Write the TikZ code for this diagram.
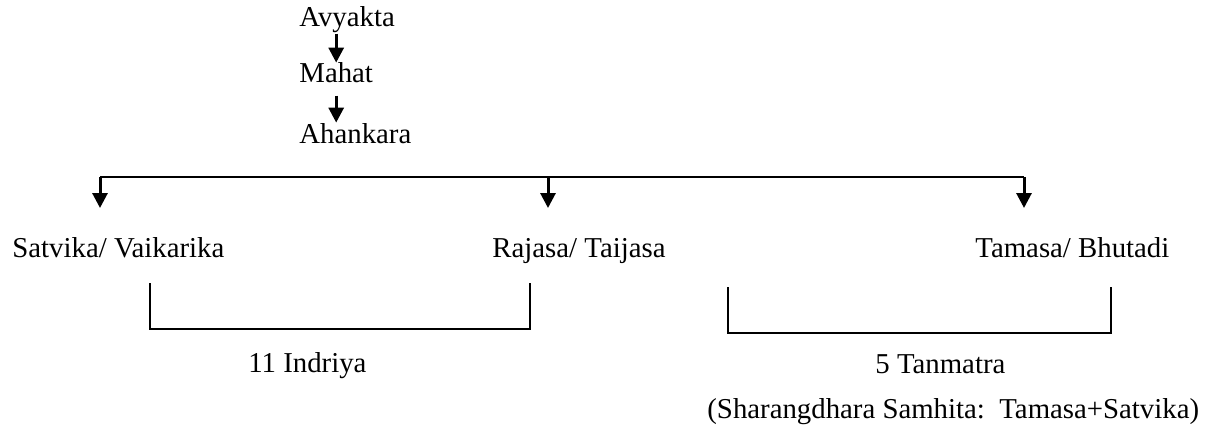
\documentclass[tikz,border=0pt]{standalone}
\usepackage{fontspec}
\setmainfont{Liberation Serif}
\usetikzlibrary{positioning,calc,arrows.meta}

\begin{document}
\begin{tikzpicture}[x=0.5pt,y=-0.5pt,font=\fontsize{14.4}{17}\selectfont,
  lbl/.style={anchor=base west,inner sep=0pt},
  arr/.style={line width=1.5pt,-{Triangle[width=7.5pt,length=7.5pt]}},
  bar/.style={line width=1pt},
  brace/.style={line width=1.2pt}]
\useasboundingbox (0,0) rectangle (1226,444);
\node[lbl] (avyakta) at (299,27) {Avyakta};
\node[lbl] (mahat) at (299,83) {Mahat};
\node[lbl] (ahankara) at (299,143) {Ahankara};
\draw[arr] (mahat.north |- avyakta.south) -- (mahat.north);
\draw[arr] ([yshift=-6pt]mahat.south) -- (mahat.south |- ahankara.north);
% three gunas
\coordinate (split) at (0,177);
\coordinate (t1) at (100,208);
\coordinate (t2) at (548,208);
\coordinate (t3) at (1024,208);
\draw[bar] (t1 |- split) -- (t3 |- split);
\foreach \t in {t1,t2,t3} \draw[arr] (\t |- split) -- (\t);
\node[lbl] (satvika) at (12,257) {Satvika/ Vaikarika};
\node[lbl] (rajasa) at (492,257) {Rajasa/ Taijasa};
\node[lbl] (tamasa) at (975,257) {Tamasa/ Bhutadi};
% groups
\draw[brace] (150,283) |- (530,329) -- (530,283);
\draw[brace] (728,287) |- (1111,333) -- (1111,287);
\node[lbl] (indriya) at (248,372) {11 Indriya};
\node[lbl] (tanmatra) at (875,373) {5 Tanmatra};
\node[lbl] (note) at (707,418) {(Sharangdhara Samhita:\ \ Tamasa+Satvika)};
\end{tikzpicture}
\end{document}
